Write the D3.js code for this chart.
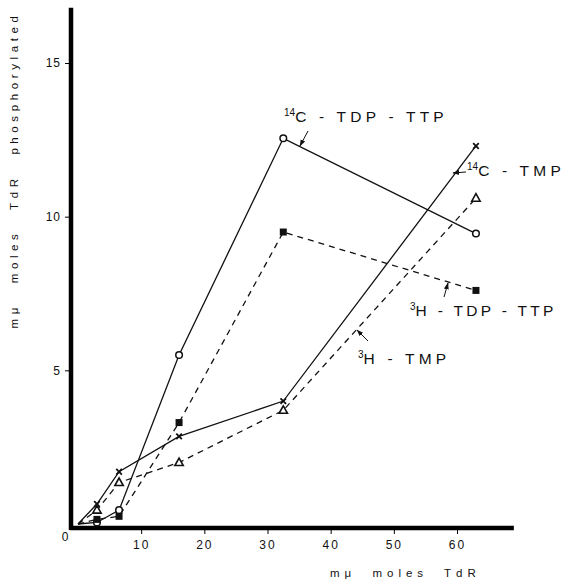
<!DOCTYPE html>
<html>
<head>
<meta charset="utf-8">
<script src="https://cdn.jsdelivr.net/npm/d3@7"></script>
<style>
  body { margin: 0; background: #fff; }
  svg text { font-family: "Liberation Sans", "DejaVu Sans", sans-serif; fill: #111; }
</style>
</head>
<body>
<svg id="chart" width="566" height="585"></svg>
<script>
// mu-moles TdR added
const tdr = [0, 3, 6.5, 16, 32.5, 63];

// mu-moles TdR phosphorylated, per product
const c14TdpTtp = [0, 0.05, 0.45, 5.5, 12.55, 9.45];
const h3TdpTtp = [0, 0.15, 0.25, 3.3, 9.5, 7.6];
const c14Tmp = [0, 0.65, 1.7, 2.85, 4.0, 12.3];
const h3Tmp = [0, 0.45, 1.35, 2.0, 3.7, 10.6];

const xTicks = [10, 20, 30, 40, 50, 60];
const yTicks = [5, 10, 15];

const svg = d3.select("#chart");

const x = d3.scaleLinear().domain([0, 60]).range([78, 457]);
const y = d3.scaleLinear().domain([0, 15]).range([524, 63]);

// heavy axis bars
svg.append("line")
  .attr("x1", x(-1.3)).attr("x2", x(69))
  .attr("y1", 528).attr("y2", 528)
  .attr("stroke", "#000").attr("stroke-width", 4.5);
svg.append("line")
  .attr("x1", 71).attr("x2", 71)
  .attr("y1", y(16.8)).attr("y2", 530)
  .attr("stroke", "#000").attr("stroke-width", 4.5);

const xAxis = d3.axisBottom(x).tickValues(xTicks).tickSize(6).tickPadding(6);
svg.append("g")
  .attr("transform", "translate(0,528)")
  .call(xAxis)
  .call(g => g.select(".domain").remove())
  .call(g => g.selectAll("text").attr("font-size", 12).attr("letter-spacing", 2));

const yAxis = d3.axisLeft(y).tickValues(yTicks).tickSize(6).tickPadding(4);
svg.append("g")
  .attr("transform", "translate(71,0)")
  .call(yAxis)
  .call(g => g.select(".domain").remove())
  .call(g => g.selectAll("text").attr("font-size", 12).attr("letter-spacing", 1));

svg.append("text").attr("x", 65).attr("y", 541)
  .attr("text-anchor", "middle").attr("font-size", 12).text("0");

// axis titles
svg.append("text")
  .attr("x", 330).attr("y", 577)
  .attr("font-size", 11.5).attr("letter-spacing", 5)
  .attr("word-spacing", 8)
  .text("mμ moles  TdR");

svg.append("text")
  .attr("transform", "translate(18,170) rotate(-90)")
  .attr("text-anchor", "middle")
  .attr("font-size", 11.5).attr("letter-spacing", 4.6)
  .attr("word-spacing", 12)
  .text("mμ moles  TdR  phosphorylated");

// series
const series = [
  { vals: c14TdpTtp, dash: null, mark: "circle" },
  { vals: h3TdpTtp, dash: "6,5", mark: "square" },
  { vals: c14Tmp, dash: null, mark: "cross" },
  { vals: h3Tmp, dash: "6,5", mark: "triangle" }
];

const line = d3.line().x(d => x(d[0])).y(d => y(d[1]));

series.forEach(s => {
  const pts = tdr.map((t, i) => [t, s.vals[i]]);
  svg.append("path")
    .datum(pts)
    .attr("d", line)
    .attr("fill", "none")
    .attr("stroke", "#111")
    .attr("stroke-width", 1.3)
    .attr("stroke-dasharray", s.dash);

  const g = svg.append("g");
  pts.slice(1).forEach(p => {
    const cx = x(p[0]), cy = y(p[1]);
    if (s.mark === "circle") {
      g.append("circle").attr("cx", cx).attr("cy", cy).attr("r", 3.3)
        .attr("fill", "#fff").attr("stroke", "#111").attr("stroke-width", 1.5);
    } else if (s.mark === "square") {
      g.append("rect").attr("x", cx - 3.5).attr("y", cy - 3.5)
        .attr("width", 7).attr("height", 7).attr("fill", "#111");
    } else if (s.mark === "cross") {
      g.append("path")
        .attr("d", `M${cx - 2.8},${cy - 2.8}L${cx + 2.8},${cy + 2.8}M${cx + 2.8},${cy - 2.8}L${cx - 2.8},${cy + 2.8}`)
        .attr("stroke", "#111").attr("stroke-width", 1.8);
    } else {
      g.append("path")
        .attr("d", `M${cx},${cy - 4.5}L${cx + 4.2},${cy + 3}L${cx - 4.2},${cy + 3}Z`)
        .attr("fill", "#fff").attr("stroke", "#111").attr("stroke-width", 1.6);
    }
  });
});

// arrowheads for the labels
svg.append("defs").append("marker")
  .attr("id", "arr").attr("viewBox", "0 0 10 10")
  .attr("refX", 9).attr("refY", 5)
  .attr("markerWidth", 7).attr("markerHeight", 7)
  .attr("orient", "auto")
  .append("path").attr("d", "M0,1.5L10,5L0,8.5Z").attr("fill", "#111");

const arrows = [
  [308, 131, 300, 146],
  [466, 172, 453, 173],
  [444, 297, 448, 283],
  [368, 341, 357, 330]
];
arrows.forEach(a => {
  svg.append("line")
    .attr("x1", a[0]).attr("y1", a[1]).attr("x2", a[2]).attr("y2", a[3])
    .attr("stroke", "#111").attr("stroke-width", 1)
    .attr("marker-end", "url(#arr)");
});

// series labels
const labels = [
  { sup: "14", text: "C - TDP - TTP", x: 284, y: 122, ls: 4.2 },
  { sup: "14", text: "C - TMP", x: 467, y: 176, ls: 4.2 },
  { sup: "3", text: "H - TDP - TTP", x: 410, y: 316, ls: 3.3 },
  { sup: "3", text: "H - TMP", x: 358, y: 364, ls: 4.2 }
];
labels.forEach(l => {
  const t = svg.append("text").attr("x", l.x).attr("y", l.y)
    .attr("font-size", 15.5).attr("letter-spacing", l.ls);
  t.append("tspan").attr("font-size", 10).attr("dy", -6).attr("letter-spacing", 0).text(l.sup);
  t.append("tspan").attr("dy", 6).text(l.text);
});
</script>
</body>
</html>
